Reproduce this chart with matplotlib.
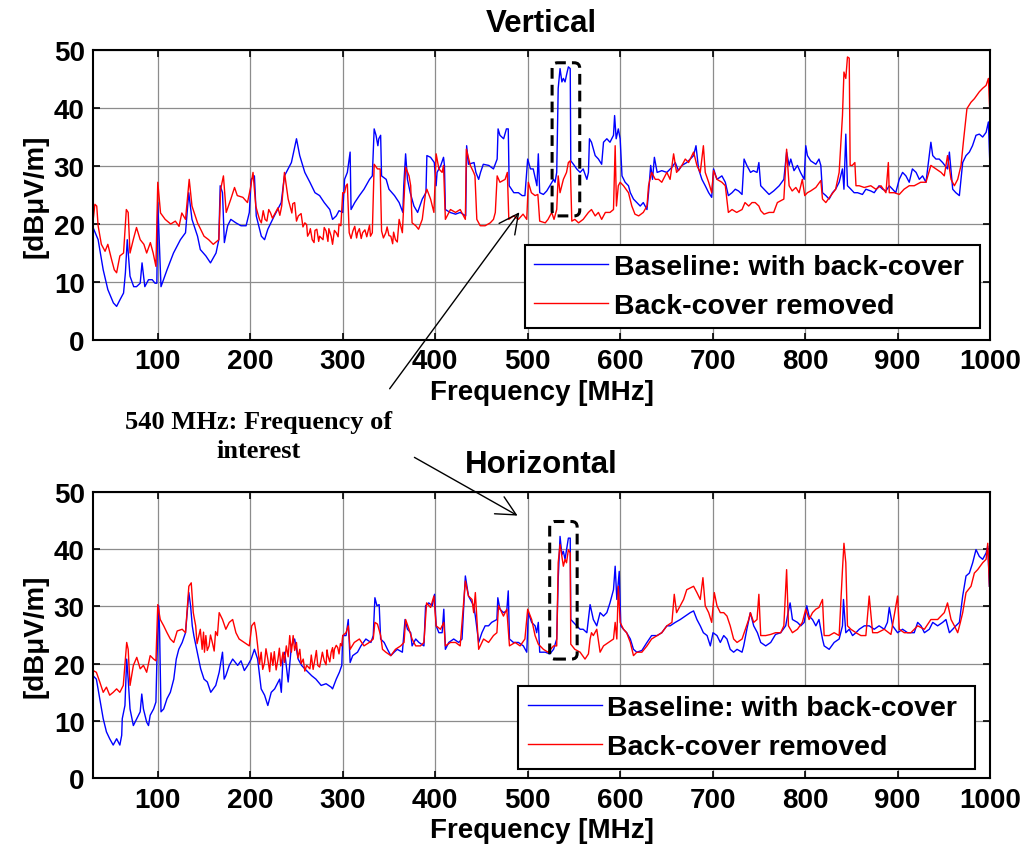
import matplotlib
matplotlib.use('Agg')
import matplotlib.pyplot as plt
from matplotlib.patches import FancyBboxPatch, FancyArrowPatch

# ---- data (frequency [MHz], level [dBuV/m]) ----
# Vertical, baseline (blue)
v_base_f = [30, 35.5, 41, 46, 52, 55.5, 59, 63, 65, 67, 70, 74, 77, 81, 83, 86, 90, 94, 97, 99,
            100, 103.5, 110, 117, 124.5, 130, 133.5, 137, 143, 146, 152, 157, 163, 166, 167.5, 170, 172, 175.5, 179, 184.5,
            190, 195.5, 199, 201, 204.5, 206.5, 212, 215.5, 219, 226, 233.5, 237, 244.5, 250, 253.5, 259, 264.5, 270, 275, 280,
            286, 289, 293, 296, 300, 302, 305, 308, 309, 313, 318, 323, 329, 332, 334, 336, 338, 339, 341, 342,
            347, 350, 356, 361, 365, 366, 368, 370, 373, 377, 381, 386, 390, 391, 395, 399, 401, 402, 406, 409,
            410, 411, 416, 422, 427, 433, 434, 436, 442, 444, 447, 449, 452, 458, 463, 467, 468, 470, 474, 477,
            479, 480, 485, 490, 494, 497, 500, 503, 506, 510, 511.5, 513, 517, 520.6, 524, 528, 529.6, 531.4, 533, 535,
            537, 538.6, 540.4, 542, 544, 546, 546.6, 549.5, 553, 556.7, 560, 564, 565.7, 566.8, 569, 573, 576.5, 580, 582, 585.6,
            589, 592.8, 594, 595.7, 598, 600, 602, 605.4, 609, 611, 614.4, 618, 621.7, 625, 629, 630.7, 633, 635, 637, 640,
            645, 650.5, 656, 659.6, 663, 666.8, 672, 675.8, 679.4, 682, 684.8, 688.4, 692, 695.7, 699, 701, 704.7, 710, 713.7, 717,
            721, 724.5, 728, 731.8, 734, 737, 741, 744, 748, 750, 752, 755.6, 761, 766, 772, 777, 780, 782.7, 784.5, 788,
            791.7, 795, 799, 800.7, 802.5, 806, 811.6, 815, 817, 818.8, 822.4, 826, 829.6, 833, 836.8, 840.4, 842, 844, 845.8, 849.5,
            853, 856.7, 862, 865.7, 871, 874.7, 880, 883.8, 887.4, 891, 894.6, 898, 901.8, 905.4, 909, 912.6, 916, 920, 923.5, 927,
            930.7, 936, 938, 941.5, 945, 948.7, 954, 956, 959.6, 963, 966.8, 970.4, 974, 977.6, 981, 984.8, 988.4, 992, 995.7, 998.2,
            999.6]
v_base_db = [19.4, 17.3, 12.1, 8.7, 6.4, 5.8, 6.9, 8.1, 11.6, 17.3, 11.0, 9.2, 9.2, 9.8, 13.3, 9.2, 10.4, 10.4, 9.8, 9.8,
             23.7, 9.2, 12.1, 15.0, 17.3, 18.5, 25.4, 20.8, 17.9, 15.6, 14.5, 13.3, 15.0, 17.3, 26.6, 25.4, 16.8, 19.7, 20.8, 20.2,
             19.7, 19.7, 22.0, 27.7, 28.3, 21.4, 17.9, 17.3, 19.1, 21.4, 23.7, 28.3, 30.6, 34.7, 31.8, 28.9, 27.2, 25.4, 24.9, 23.7,
             22.5, 20.8, 21.4, 22.3, 22.0, 27.7, 28.9, 32.4, 22.5, 23.7, 24.9, 26.0, 27.7, 28.3, 36.4, 35.3, 33.5, 34.7, 35.3, 28.3,
             27.7, 26.0, 24.9, 23.7, 22.0, 26.6, 32.1, 27.7, 25.4, 23.1, 22.0, 24.3, 25.4, 31.8, 31.5, 30.6, 26.6, 28.9, 30.1, 31.5,
             30.1, 22.5, 22.0, 21.7, 22.0, 21.4, 33.5, 30.3, 30.6, 28.9, 27.7, 28.9, 30.3, 30.1, 29.5, 31.2, 36.4, 35.3, 34.7, 36.4,
             36.4, 26.6, 25.4, 25.4, 24.9, 24.9, 31.2, 29.5, 29.5, 26.6, 32.1, 25.4, 25.1, 25.7, 26.6, 27.7, 27.2, 28.9, 43.4, 46.8,
             44.5, 45.1, 44.5, 45.7, 47.1, 46.8, 30.9, 30.3, 29.5, 28.9, 29.5, 27.7, 28.9, 34.7, 34.1, 31.8, 31.2, 30.3, 34.1, 34.7,
             34.1, 35.3, 38.7, 34.7, 36.4, 34.7, 28.3, 27.2, 26.6, 25.4, 24.3, 23.7, 23.1, 23.7, 22.5, 25.4, 30.1, 27.7, 31.5, 28.9,
             29.2, 28.9, 29.8, 30.6, 29.2, 30.1, 30.6, 31.2, 31.8, 33.5, 29.5, 27.7, 26.6, 25.4, 24.6, 29.5, 27.7, 28.3, 27.2, 24.9,
             25.4, 26.0, 25.7, 25.1, 31.2, 30.1, 28.9, 29.2, 28.9, 30.6, 26.6, 26.0, 25.1, 25.7, 26.6, 27.7, 32.4, 30.1, 31.2, 29.2,
             30.1, 28.9, 27.7, 33.5, 31.8, 30.9, 30.3, 31.2, 30.1, 25.4, 24.9, 24.3, 25.4, 26.0, 27.2, 29.5, 26.0, 35.5, 26.6, 26.0,
             25.4, 25.4, 25.1, 26.0, 25.7, 25.4, 26.6, 26.0, 25.7, 26.6, 26.0, 25.4, 27.7, 28.9, 28.3, 27.2, 29.5, 28.9, 27.7, 28.3,
             27.2, 34.1, 31.8, 31.2, 31.2, 30.6, 29.5, 32.4, 26.0, 25.4, 24.9, 30.6, 31.8, 32.4, 33.5, 35.3, 35.5, 35.0, 35.8, 37.6,
             31.2]

# Vertical, back-cover removed (red)
v_rem_f = [30, 32, 34, 35.5, 39, 43, 46, 50, 53, 55.5, 59, 63, 66, 68, 70, 73.5, 77, 81, 85, 88,
           92, 95, 98, 100, 103, 108, 114, 119, 123, 126, 130, 134, 137, 143, 150, 155, 160, 166, 168, 171,
           174, 179, 183, 186, 192, 197, 200, 203, 206, 208, 210, 212, 214, 216, 218, 220, 222, 224, 227, 230,
           232, 234, 237, 241, 245, 246, 248, 250, 252, 255, 257, 259, 261, 262, 264, 265, 267, 269, 270, 272,
           274, 275, 278.7, 280, 282, 284, 285, 287.5, 289, 291, 293, 295, 296, 298, 300, 302, 303.6, 305, 307, 309,
           311, 313, 315, 316, 318, 320, 321.5, 324, 326, 327, 329, 330, 332, 334, 337.6, 340.5, 342, 344, 346.6, 348,
           350, 352, 354, 355, 357, 359, 361, 364.5, 368, 371.7, 373.5, 375, 379, 382, 386, 389.6, 391, 395, 398.6, 401,
           404, 407.5, 409, 411, 416.5, 422, 427, 432.6, 433.7, 438, 441.6, 443, 445, 448.7, 454, 459.5, 463, 465, 467, 470,
           475.6, 478, 479.6, 484.6, 490, 495, 499, 500.7, 504, 508, 511, 513, 519, 522, 526, 528.5, 531.4, 533, 535, 538.6,
           542, 544, 546, 547.7, 551, 555, 560, 565.7, 569, 573, 576.5, 580, 584, 589, 592.8, 594.6, 596, 598, 600, 603.6,
           609, 612.6, 616, 620, 625, 629, 630.7, 634, 638, 641.5, 645, 650.5, 654, 657.8, 661, 666.8, 670.4, 674, 679.4, 683,
           686.6, 690, 692, 695.7, 699, 701, 704.7, 710, 713.7, 717, 721, 726, 731.8, 735, 739, 742.6, 746, 750, 752, 755.6,
           761, 766, 770, 773.6, 777, 780, 782.7, 786, 790, 793.5, 797, 799.6, 802.5, 806, 811.6, 817, 818.8, 822.4, 827.8, 833,
           836.8, 840.4, 842, 844, 845.8, 847.7, 848.7, 851, 853.8, 855, 858.5, 864, 871, 876.5, 882, 887.4, 890, 891, 896.4, 901.8,
           907, 912.6, 918, 925, 930.7, 936, 941.5, 947, 950.5, 954, 957.8, 961.4, 965, 968.6, 971.5, 975, 979.4, 983, 988.4, 992,
           995.7, 998.2, 999.6]
v_rem_db = [20.5, 23.4, 23.1, 19.7, 16.5, 15.3, 16.5, 13.9, 12.1, 11.6, 14.5, 15.0, 22.5, 22.0, 15.0, 17.3, 19.4, 17.3, 16.5, 15.0,
            16.8, 15.0, 12.7, 27.2, 21.9, 20.8, 20.0, 20.5, 19.6, 21.9, 20.8, 27.7, 23.1, 20.2, 17.9, 17.3, 16.5, 17.3, 26.0, 28.3,
            22.0, 24.3, 26.3, 24.9, 24.6, 23.7, 26.0, 28.9, 23.1, 21.9, 20.8, 20.2, 22.3, 20.8, 20.5, 22.5, 21.9, 21.0, 21.9, 22.8,
            21.5, 23.1, 28.9, 24.3, 21.9, 23.5, 23.7, 20.5, 21.4, 21.8, 19.5, 20.2, 19.9, 17.9, 18.5, 19.2, 17.3, 16.8, 18.9, 19.1,
            17.0, 17.9, 17.3, 19.4, 18.8, 17.0, 19.2, 17.9, 16.5, 18.9, 18.5, 17.8, 20.0, 19.7, 25.4, 25.4, 26.6, 26.9, 18.5, 17.5,
            18.8, 19.6, 17.6, 18.5, 19.2, 17.5, 18.5, 19.0, 17.8, 18.5, 19.8, 17.9, 18.5, 30.3, 29.5, 29.5, 18.8, 17.6, 18.5, 19.5,
            18.0, 17.9, 16.6, 18.6, 17.3, 16.9, 20.8, 18.5, 29.8, 28.3, 26.6, 20.2, 19.7, 19.1, 20.8, 25.4, 26.0, 24.3, 22.0, 32.1,
            29.5, 28.9, 30.1, 20.8, 22.5, 22.0, 22.5, 20.8, 32.9, 30.1, 28.9, 28.3, 20.8, 19.7, 19.7, 20.2, 20.8, 22.0, 28.3, 27.2,
            27.7, 28.9, 20.8, 21.4, 20.8, 21.7, 20.8, 27.2, 25.4, 24.9, 25.1, 20.5, 20.2, 20.8, 22.0, 20.8, 22.5, 28.3, 25.4, 27.7,
            28.9, 30.6, 30.9, 20.5, 20.8, 20.2, 20.8, 22.0, 22.5, 21.4, 22.0, 20.8, 22.0, 22.0, 22.5, 33.5, 23.1, 26.6, 27.2, 26.6,
            25.4, 23.1, 21.7, 21.4, 22.0, 23.1, 26.6, 28.9, 27.7, 27.7, 27.2, 28.9, 27.7, 32.1, 28.9, 30.1, 31.2, 30.6, 32.4, 30.1,
            28.9, 33.5, 28.9, 27.2, 25.4, 29.2, 27.7, 27.2, 26.6, 22.0, 22.5, 22.0, 22.5, 23.7, 23.1, 23.7, 23.7, 23.1, 22.3, 21.7,
            22.0, 22.0, 23.7, 24.0, 24.3, 32.9, 26.6, 25.7, 26.3, 25.4, 27.7, 24.9, 25.4, 25.7, 26.3, 27.5, 24.3, 23.7, 24.9, 26.0,
            28.9, 38.7, 46.2, 45.1, 48.8, 48.6, 30.1, 30.1, 30.6, 26.6, 26.6, 26.3, 26.6, 26.0, 26.6, 25.4, 30.6, 25.4, 25.4, 25.1,
            26.0, 26.6, 26.6, 27.2, 27.2, 30.1, 29.5, 28.9, 28.3, 31.8, 27.7, 26.6, 27.7, 30.1, 34.7, 39.9, 41.0, 41.6, 42.8, 43.4,
            43.9, 45.1, 39.9]

# Horizontal, baseline (blue)
h_base_f = [30, 33.6, 37.3, 41, 44.5, 48, 51.8, 55.5, 59, 61, 61.6, 64.5, 66.4, 68, 70, 73.6, 77.3, 81, 82.7, 84.5,
            88, 90, 91.8, 95.5, 98, 99, 101, 102, 103.5, 106.4, 110, 113.6, 117.3, 120, 122.7, 126.4, 130, 133.6, 135.5, 137.3,
            139, 142.7, 146.4, 150, 153.6, 157.3, 162.7, 166.4, 170, 171.8, 173.6, 177.3, 181, 186.4, 190, 193.6, 197.3, 201, 204.5, 208,
            211.8, 215.5, 219, 222.7, 226.4, 231.8, 233.6, 235.5, 237.3, 241, 244.5, 248, 251.8, 255.5, 259, 266.4, 271, 276.7, 282, 287.5,
            289, 293, 296.4, 299, 300, 303.6, 306, 308, 310.8, 316, 319.7, 325, 330.5, 333, 334.8, 337, 339.4, 341, 344.8, 348.4,
            352, 355.6, 359, 364.5, 367.4, 370, 373.5, 375, 378.9, 382.4, 387.8, 389.6, 393, 396.8, 399.3, 401, 404, 407.5, 409.3, 411,
            414.7, 420, 425.4, 429, 432.6, 436, 441.6, 443.4, 447, 450.5, 454, 457.7, 461, 466.7, 467.7, 470, 473.8, 477.4, 479, 480.3,
            484.6, 490, 495.3, 499, 500.7, 504.3, 508, 509.7, 511.5, 513, 519, 524, 528, 531.4, 533, 535, 537, 538.6, 540.4, 542,
            544, 546, 546.6, 549.5, 553, 556.7, 560, 564, 567.5, 571, 574.7, 578.3, 582, 585.6, 589, 592.8, 594.6, 596.4, 599, 600.7,
            603.6, 607, 611, 614.4, 618, 623.5, 629, 634, 640, 645, 650.5, 654, 659.6, 665, 670.4, 675.8, 679.4, 683, 686.6, 690,
            694, 697.5, 700.4, 704.7, 708.3, 712, 715.5, 719, 722.7, 726.4, 731.8, 733.6, 737, 740.8, 744.4, 748.4, 752, 757.4, 762.8, 768,
            773.6, 779, 781.6, 783.8, 786.3, 791.7, 795.3, 799, 801.8, 804.3, 808, 811.6, 815, 818.8, 820.6, 826, 831.4, 836.8, 840.4, 841.5,
            844, 847.7, 851.3, 855, 858.5, 864, 869.3, 874.7, 880, 885.6, 889, 891, 894.6, 900, 905.4, 910.8, 918, 921.7, 925.3, 929,
            934.3, 938, 943.3, 948.7, 952.3, 956, 959.6, 963, 966.8, 970.4, 974, 977.6, 981.2, 984.8, 988.4, 992, 995.7, 997.5, 999.3]
h_base_db = [17.9, 17.3, 13.9, 10.4, 8.1, 6.9, 5.8, 6.9, 5.8, 7.5, 10.4, 12.7, 20.8, 17.3, 12.1, 9.2, 10.4, 11.6, 14.7, 12.1,
             9.8, 9.2, 11.0, 12.1, 13.3, 20.2, 30.1, 25.4, 11.6, 12.1, 13.9, 15.0, 17.3, 20.8, 22.5, 23.7, 25.4, 32.4, 30.1, 26.6,
             24.9, 22.0, 19.1, 17.3, 16.8, 15.0, 16.2, 18.5, 22.0, 17.3, 17.9, 19.7, 20.8, 19.7, 20.5, 18.8, 19.7, 20.8, 22.5, 20.8,
             15.6, 14.5, 12.7, 15.0, 15.6, 17.3, 15.0, 21.4, 22.0, 16.8, 23.1, 24.3, 20.8, 19.7, 19.1, 17.9, 17.3, 16.2, 16.5, 15.9,
             15.6, 17.3, 18.5, 19.7, 24.9, 24.9, 27.7, 20.2, 21.4, 22.0, 23.1, 24.3, 23.7, 24.9, 31.5, 30.1, 30.3, 24.3, 23.7, 22.5,
             21.4, 22.0, 22.5, 22.0, 27.7, 26.0, 25.4, 23.1, 24.3, 23.7, 23.1, 30.1, 30.6, 30.1, 32.1, 26.6, 25.4, 25.4, 29.5, 22.5,
             23.7, 24.3, 23.7, 24.3, 35.3, 31.8, 30.1, 28.3, 23.7, 25.4, 26.6, 26.6, 27.2, 27.7, 31.5, 29.5, 28.9, 29.2, 32.7, 24.3,
             23.7, 23.7, 23.1, 22.0, 28.9, 27.2, 26.6, 25.4, 27.2, 22.0, 22.0, 21.7, 22.5, 24.3, 34.7, 42.2, 39.0, 39.6, 38.2, 39.9,
             41.9, 41.9, 27.7, 27.2, 26.6, 26.0, 26.0, 25.4, 30.3, 27.7, 26.6, 28.9, 28.3, 28.9, 30.6, 32.9, 37.0, 31.2, 36.1, 26.6,
             26.0, 25.4, 24.3, 22.5, 22.0, 22.3, 23.7, 24.9, 24.9, 25.4, 26.6, 26.6, 27.2, 27.7, 28.3, 28.9, 29.2, 27.7, 26.6, 25.4,
             24.9, 23.1, 25.4, 24.9, 23.7, 24.9, 24.3, 22.5, 22.0, 22.5, 22.0, 23.1, 26.0, 28.9, 26.6, 25.4, 23.7, 23.1, 23.7, 25.1,
             25.4, 26.6, 28.9, 30.6, 27.7, 27.2, 26.6, 27.2, 30.1, 28.3, 27.7, 26.6, 27.7, 24.3, 23.1, 22.5, 23.7, 24.3, 26.6, 31.2,
             25.4, 26.0, 24.9, 25.4, 26.0, 26.6, 26.6, 26.0, 26.6, 26.0, 27.2, 29.8, 26.6, 25.4, 26.0, 25.4, 25.4, 27.2, 26.6, 25.4,
             26.0, 27.2, 26.6, 27.2, 27.7, 25.4, 26.0, 26.6, 27.2, 31.8, 35.3, 35.8, 37.6, 39.9, 38.7, 38.2, 39.3, 40.5, 33.5]

# Horizontal, back-cover removed (red)
h_rem_f = [30, 33.6, 37.3, 41, 44.5, 48, 51.8, 55.5, 59, 62.7, 66.4, 68, 70, 73.6, 77.3, 81, 84.5, 88, 91.8, 95.5,
           98, 100, 102.7, 106.4, 110, 113.6, 117.3, 121, 126.4, 130, 133.6, 136.2, 138.4, 141, 142.5, 144.5, 146, 148, 149.5, 150.5,
           152, 153.5, 155.5, 157, 159, 161, 162.5, 164.5, 166.4, 170, 173.6, 177.3, 181, 184.5, 188, 193.6, 199, 201.6, 204.5, 206.4,
           208, 210, 211.8, 213.5, 215.5, 217, 219, 221, 222.5, 224.5, 226, 228, 230, 231.5, 233, 235.5, 237, 239, 241, 242.7,
           244.5, 246.4, 248, 250, 251.5, 253.6, 255, 257.3, 259, 261, 264.5, 266, 268, 270, 271.5, 273, 275, 276.7, 278, 280,
           282, 283, 284, 286, 287.5, 289, 290, 291, 293, 294.6, 296, 297.5, 299, 300, 303.6, 306, 308,
           312.5, 318, 323, 328.7, 333, 334.8, 337.6, 341, 343, 346.6, 352, 357, 362.7, 366.3, 368, 371.7, 375, 378.9, 384, 387.8,
           390.7, 395, 398.6, 401, 405.7, 409.3, 411, 416.5, 422, 427, 432.6, 436, 439.8, 441.6, 443.4, 447, 452.3, 457.7, 463, 466.7,
           468.5, 473.8, 477.4, 480.3, 486.4, 491.8, 497, 500, 504.3, 508, 511.5, 517, 522, 528, 531.4, 533, 535, 537, 538.6, 540.4,
           542, 544, 546, 546.6, 551, 556.7, 562, 565.7, 567.5, 569, 571, 574.7, 578.3, 582, 587.4, 592.8, 594.6, 596.4, 598, 600,
           603.6, 607, 611, 614.4, 618, 623.5, 629, 634, 640, 645, 650.5, 656, 658.5, 661, 665, 668.6, 672, 675.8, 679.4, 683,
           686.6, 689.5, 692, 695.7, 699, 701.8, 704.7, 708.3, 712, 715.5, 719, 722.7, 726.4, 731.8, 735.4, 739, 740.8, 744.4, 748, 750,
           752, 757.4, 762.8, 768, 773.6, 777, 780, 782, 786.3, 791.7, 797, 800.7, 804.3, 808, 811.6, 815, 818.8, 820.6, 826, 831.4,
           836.8, 840.4, 842, 844, 845.8, 849.5, 855, 860.3, 865.7, 869.3, 873, 878.3, 885.6, 892.8, 900, 901.8, 907.2, 914.4, 921.7, 929,
           936, 943.3, 950.5, 954, 957.8, 961.4, 965, 967.9, 970.4, 974, 979.4, 983, 986.6, 992, 995.7, 997.5, 999.3]
h_rem_db = [18.8, 18.5, 16.8, 15.0, 15.9, 14.5, 15.0, 15.6, 15.0, 16.2, 23.7, 22.5, 16.2, 19.7, 21.1, 19.1, 19.7, 18.5, 21.4, 20.8,
            20.5, 30.3, 27.7, 26.6, 25.4, 24.3, 23.7, 25.7, 26.0, 25.4, 33.5, 34.1, 28.9, 26.6, 23.5, 24.9, 26.0, 22.5, 25.5, 22.0,
            24.9, 22.3, 23.1, 25.0, 23.7, 22.2, 25.6, 24.9, 28.9, 27.7, 26.0, 27.2, 27.7, 25.4, 24.3, 23.7, 23.1, 26.6, 27.2, 25.4,
            23.1, 19.9, 22.0, 19.0, 20.2, 22.6, 20.8, 18.6, 21.9, 19.7, 22.1, 18.9, 20.8, 22.7, 19.6, 22.0, 20.2, 23.1, 21.2, 24.9,
            22.0, 24.9, 22.3, 23.7, 21.0, 22.5, 20.0, 20.8, 18.7, 19.7, 19.1, 21.5, 19.0, 20.8, 22.3, 19.7, 19.4, 20.8, 22.0, 20.5,
            19.8, 22.4, 21.4, 20.3, 22.0, 22.8, 20.9, 22.5, 23.2, 22.8, 21.7, 23.5, 23.1, 24.9, 25.4, 26.6, 22.5,
            23.7, 24.3, 23.1, 23.7, 24.3, 27.2, 26.9, 24.9, 22.5, 22.0, 21.4, 22.5, 23.1, 23.7, 27.7, 26.0, 24.3, 23.1, 23.1, 23.7,
            30.6, 29.8, 31.8, 26.6, 26.0, 27.2, 23.1, 23.7, 23.7, 23.1, 34.4, 31.8, 31.2, 28.9, 32.4, 22.5, 24.3, 23.7, 24.9, 25.4,
            30.1, 28.3, 29.5, 23.1, 23.7, 23.1, 24.3, 29.5, 27.7, 24.9, 23.4, 22.5, 22.0, 23.1, 23.1, 37.6, 40.8, 38.7, 37.0, 38.2,
            37.6, 39.9, 39.3, 23.4, 22.5, 22.0, 20.8, 21.7, 24.3, 25.4, 24.9, 26.0, 22.0, 23.1, 23.7, 24.3, 27.2, 24.3, 33.5, 27.2,
            26.0, 25.4, 23.7, 21.4, 22.0, 22.0, 23.1, 24.3, 24.9, 25.4, 26.6, 27.2, 32.1, 28.9, 30.1, 31.2, 32.9, 33.2, 33.5, 32.4,
            31.2, 35.0, 30.1, 28.9, 27.2, 32.4, 30.1, 28.9, 28.9, 28.3, 26.6, 24.3, 23.7, 24.3, 26.0, 27.7, 28.9, 27.2, 27.7, 32.1,
            24.9, 24.9, 25.1, 25.4, 25.4, 26.6, 36.4, 26.6, 25.4, 26.0, 27.2, 29.5, 27.7, 28.9, 29.5, 29.8, 31.2, 24.9, 24.9, 25.4,
            24.9, 36.4, 41.0, 37.6, 26.6, 26.0, 25.4, 24.9, 24.9, 31.8, 25.4, 25.4, 26.0, 25.1, 31.8, 26.0, 25.4, 25.4, 26.6, 26.0,
            27.7, 27.7, 28.9, 30.6, 27.7, 26.6, 25.4, 27.2, 28.9, 32.4, 33.5, 35.8, 36.4, 37.6, 38.2, 41.0, 33.5]

x_ticks = [100, 200, 300, 400, 500, 600, 700, 800, 900, 1000]
y_ticks = [0, 10, 20, 30, 40, 50]
titles = ['Vertical', 'Horizontal']
labels = ['Baseline: with back-cover', 'Back-cover removed']

# ---- style ----
plt.rcParams['font.family'] = ['Liberation Sans', 'DejaVu Sans']
plt.rcParams['font.weight'] = 'bold'
plt.rcParams['font.size'] = 20
plt.rcParams['xtick.direction'] = 'in'
plt.rcParams['ytick.direction'] = 'in'

fig = plt.figure(figsize=(10.28, 8.53), dpi=100)
ax1 = fig.add_axes([0.0905, 0.6002, 0.8726, 0.340])
ax2 = fig.add_axes([0.0905, 0.0864, 0.8726, 0.336])

series = [(ax1, v_base_f, v_base_db, v_rem_f, v_rem_db),
          (ax2, h_base_f, h_base_db, h_rem_f, h_rem_db)]
legend_boxes = [(0.4816, 0.041, 0.5074, 0.29), (0.474, 0.032, 0.509, 0.29)]

for i, (ax, bf, bd, rf, rd) in enumerate(series):
    ax.plot(bf, bd, color='#0000ff', lw=1.0, label=labels[0])
    ax.plot(rf, rd, color='#ff0000', lw=1.0, label=labels[1])
    ax.set_xlim(30, 1000)
    ax.set_ylim(0, 50)
    ax.set_xticks(x_ticks)
    ax.set_yticks(y_ticks)
    ax.grid(True, color='#8c8c8c', lw=0.9)
    ax.set_axisbelow(True)
    ax.tick_params(which='both', top=True, right=True, length=5, width=1.2, labelsize=20, pad=6)
    for s in ax.spines.values():
        s.set_linewidth(1.5)
    ax.set_xlabel('Frequency [MHz]', fontsize=20, fontweight='bold', labelpad=3)
    ax.set_ylabel('[dB\u03bcV/m]', fontsize=20, fontweight='bold', labelpad=4)
    ax.set_title(titles[i], fontsize=22.5, fontweight='bold', pad=14)
    leg = ax.legend(loc='lower left', bbox_to_anchor=legend_boxes[i], mode='expand',
                    fancybox=False, framealpha=1, edgecolor='k', fontsize=20.5,
                    handlelength=2.6, handletextpad=0.2, borderpad=0.33, labelspacing=0.44,
                    borderaxespad=0)
    leg.get_frame().set_linewidth(1.5)

# dashed rounded boxes around 540 MHz
box1 = FancyBboxPatch((526.4, 21.4), 29.9, 26.4, boxstyle='round,pad=0,rounding_size=6',
                      mutation_aspect=0.16, fill=False, ec='k', lw=2.2, ls=(0, (3.5, 2)), zorder=5)
ax1.add_patch(box1)
box2 = FancyBboxPatch((523.8, 20.8), 29.7, 24.0, boxstyle='round,pad=0,rounding_size=6',
                      mutation_aspect=0.16, fill=False, ec='k', lw=2.2, ls=(0, (3.5, 2)), zorder=5)
ax2.add_patch(box2)

# annotation text and arrows (figure coords)
W, H = 1028.0, 853.0
fig.text(259 / W, 1 - 437 / H, '540 MHz: Frequency of\ninterest', ha='center', va='center',
         family='Liberation Serif', fontweight='bold', fontsize=19, linespacing=1.3)
arr1 = FancyArrowPatch((388 / W, 1 - 392 / H), (521 / W, 1 - 211 / H), transform=fig.transFigure,
                       arrowstyle='->,head_length=0.7,head_width=0.35', mutation_scale=20, lw=1.0, color='k')
arr2 = FancyArrowPatch((412 / W, 1 - 457 / H), (520 / W, 1 - 518 / H), transform=fig.transFigure,
                       arrowstyle='->,head_length=0.7,head_width=0.35', mutation_scale=20, lw=1.0, color='k')
fig.add_artist(arr1)
fig.add_artist(arr2)

fig.savefig('out.png', dpi=100)
plt.close()
